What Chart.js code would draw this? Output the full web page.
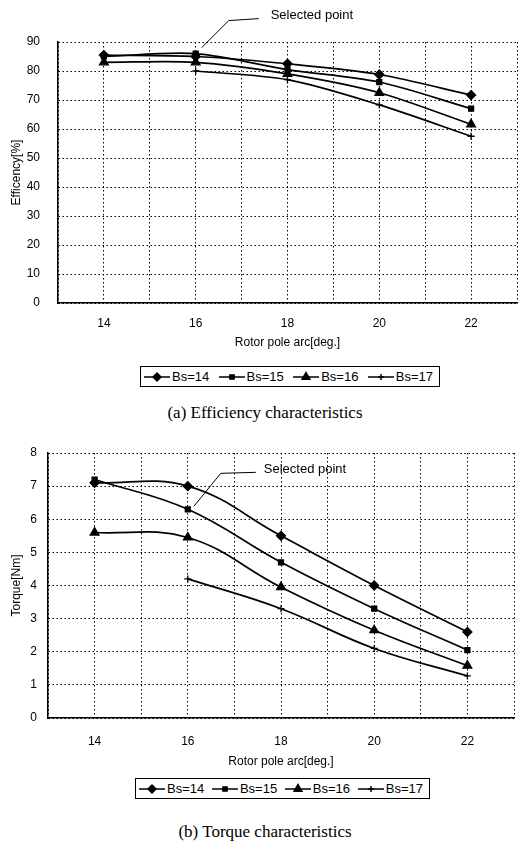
<!DOCTYPE html>
<html>
<head>
<meta charset="utf-8">
<title>Efficiency and torque characteristics</title>
<script src="https://cdn.jsdelivr.net/npm/chart.js@4.4.1/dist/chart.umd.min.js"></script>
<style>
  html, body { margin: 0; padding: 0; background: #fff; }
  body { width: 530px; height: 843px; position: relative; overflow: hidden;
         font-family: "Liberation Sans", Arial, sans-serif; color: #000; }
  canvas.plot { position: absolute; left: 0; }
  .legend { position: absolute; box-sizing: border-box; height: 21px; border: 1px solid #000;
            display: flex; align-items: center; justify-content: space-between;
            padding: 0 6px 0 3px; font-size: 13px; }
  .legend .item { display: flex; align-items: center; }
  .legend canvas { margin-right: 2px; }
  .caption { position: absolute; left: 0; width: 530px; text-align: center; line-height: 20px;
             font-family: "Liberation Serif", "Times New Roman", serif; font-size: 17px; }
</style>
</head>
<body>
<canvas id="eff" class="plot" width="530" height="350" style="top:0"></canvas>
<div id="eff-legend" class="legend" style="left:140px; top:366px; width:300px;"></div>
<div class="caption" style="top:403px;">(a) Efficiency characteristics</div>

<canvas id="torque" class="plot" width="530" height="350" style="top:420px"></canvas>
<div id="torque-legend" class="legend" style="left:135px; top:778px; width:295px;"></div>
<div class="caption" style="top:822px;">(b) Torque characteristics</div>

<script>
var rotorArc = [14, 16, 18, 20, 22];
var xTickLabels = [14, 16, 18, 20, 22];
var seriesNames = ["Bs=14", "Bs=15", "Bs=16", "Bs=17"];
var markerStyles = ["rectRot", "rect", "triangle", "cross"];
var markerRadius = [4.5, 3.5, 5, 3.5];

// efficiency [%]
var effBs14 = [85.5, 85, 82.5, 78.8, 71.7];
var effBs15 = [85, 86, 80.5, 76.2, 67];
var effBs16 = [83, 83, 79, 72.5, 61.6];
var effBs17 = [null, 80, 77, 68.3, 57.5];

// torque [Nm]
var torqueBs14 = [7.1, 7.0, 5.5, 4.0, 2.6];
var torqueBs15 = [7.2, 6.3, 4.7, 3.3, 2.05];
var torqueBs16 = [5.6, 5.45, 3.95, 2.65, 1.58];
var torqueBs17 = [null, 4.2, 3.3, 2.1, 1.27];

var selectedSeries = 1;
var selectedArc = 16;

Chart.defaults.font.family = "'Liberation Sans', Arial, sans-serif";
Chart.defaults.color = "#000";

function makeDatasets(seriesList, tension) {
  return seriesNames.map(function (name, i) {
    return {
      label: name,
      data: rotorArc
        .map(function (x, j) { return { x: x, y: seriesList[i][j] }; })
        .filter(function (p) { return p.y !== null; }),
      borderColor: "#000",
      backgroundColor: "#000",
      borderWidth: 1.7,
      pointStyle: markerStyles[i],
      pointRadius: markerRadius[i],
      pointBorderWidth: 1.3,
      tension: tension,
      fill: false
    };
  });
}

// leader line + "Selected point" text, anchored to the data point
var selectedPointPlugin = {
  id: "selectedPoint",
  afterDatasetsDraw: function (chart, args, opts) {
    var px = chart.scales.x.getPixelForValue(opts.x);
    var py = chart.scales.y.getPixelForValue(opts.y);
    var ctx = chart.ctx;
    ctx.save();
    ctx.strokeStyle = "#000";
    ctx.lineWidth = 1;
    ctx.beginPath();
    ctx.moveTo(px + opts.tip[0], py + opts.tip[1]);
    ctx.lineTo(px + opts.elbow[0], py + opts.elbow[1]);
    ctx.lineTo(px + opts.end[0], py + opts.end[1]);
    ctx.stroke();
    ctx.fillStyle = "#000";
    ctx.font = "13px 'Liberation Sans', Arial, sans-serif";
    ctx.textBaseline = "middle";
    ctx.fillText("Selected point", px + opts.text[0], py + opts.text[1]);
    ctx.restore();
  }
};

function axisX(tickPad, titlePadBottom, height) {
  return {
    type: "linear",
    min: 13,
    max: 23,
    ticks: {
      stepSize: 1,
      autoSkip: false,
      maxRotation: 0,
      padding: tickPad,
      font: { size: 12 },
      callback: function (v) { return xTickLabels.indexOf(v) >= 0 ? String(v) : ""; }
    },
    grid: { color: "#000", lineWidth: 1, drawTicks: false },
    border: { color: "#000", width: 1.5, dash: [1.5, 2.5] },
    title: { display: true, text: "Rotor pole arc[deg.]", font: { size: 12 },
             padding: { top: 0, bottom: titlePadBottom } },
    afterFit: function (s) { s.height = height; }
  };
}

function axisY(max, step, label, tickPad, width) {
  return {
    min: 0,
    max: max,
    ticks: { stepSize: step, padding: tickPad, font: { size: 12 } },
    grid: { color: "#000", lineWidth: 1, drawTicks: false },
    border: { color: "#000", width: 1.5, dash: [1.5, 2.5] },
    title: { display: true, text: label, font: { size: 12 }, padding: { top: 9, bottom: 0 } },
    afterFit: function (s) { s.width = width; }
  };
}

function lineChart(id, seriesList, tension, yAxis, xAxis, padding, pointOpts) {
  return new Chart(document.getElementById(id).getContext("2d"), {
    type: "line",
    data: { datasets: makeDatasets(seriesList, tension) },
    options: {
      responsive: false,
      animation: false,
      devicePixelRatio: 1,
      layout: { padding: padding },
      plugins: { legend: { display: false }, tooltip: { enabled: false }, selectedPoint: pointOpts },
      scales: { x: xAxis, y: yAxis }
    },
    plugins: [selectedPointPlugin]
  });
}

function legendSample(style, radius) {
  var c = document.createElement("canvas");
  c.width = 26;
  c.height = 12;
  var ctx = c.getContext("2d");
  ctx.strokeStyle = "#000";
  ctx.fillStyle = "#000";
  ctx.lineWidth = 1.5;
  ctx.beginPath();
  ctx.moveTo(0, 6);
  ctx.lineTo(26, 6);
  ctx.stroke();
  Chart.helpers.drawPoint(ctx, { pointStyle: style, radius: radius, borderWidth: 1.3, rotation: 0 }, 13, 6);
  return c;
}

function buildLegend(id) {
  var box = document.getElementById(id);
  seriesNames.forEach(function (name, i) {
    var item = document.createElement("span");
    item.className = "item";
    item.appendChild(legendSample(markerStyles[i], markerRadius[i] - 0.5));
    var t = document.createElement("span");
    t.textContent = name;
    item.appendChild(t);
    box.appendChild(item);
  });
}

var effSeries = [effBs14, effBs15, effBs16, effBs17];
var torqueSeries = [torqueBs14, torqueBs15, torqueBs16, torqueBs17];

lineChart("eff", effSeries, 0.3,
  axisY(90, 10, "Efficency[%]", 18, 58),
  axisX(13, 0, 47),
  { top: 42, right: 8, left: 0, bottom: 0 },
  { x: selectedArc, y: effSeries[selectedSeries][rotorArc.indexOf(selectedArc)],
    tip: [6, -6], elbow: [33, -33], end: [63, -35], text: [75, -38] });

lineChart("torque", torqueSeries, 0.4,
  axisY(8, 1, "Torque[Nm]", 11, 48),
  axisX(16, 1, 52),
  { top: 33, right: 4, left: 0, bottom: 0 },
  { x: selectedArc, y: torqueSeries[selectedSeries][rotorArc.indexOf(selectedArc)],
    tip: [6, -3], elbow: [33, -36], end: [68, -37], text: [76, -40] });

buildLegend("eff-legend");
buildLegend("torque-legend");
</script>
</body>
</html>
